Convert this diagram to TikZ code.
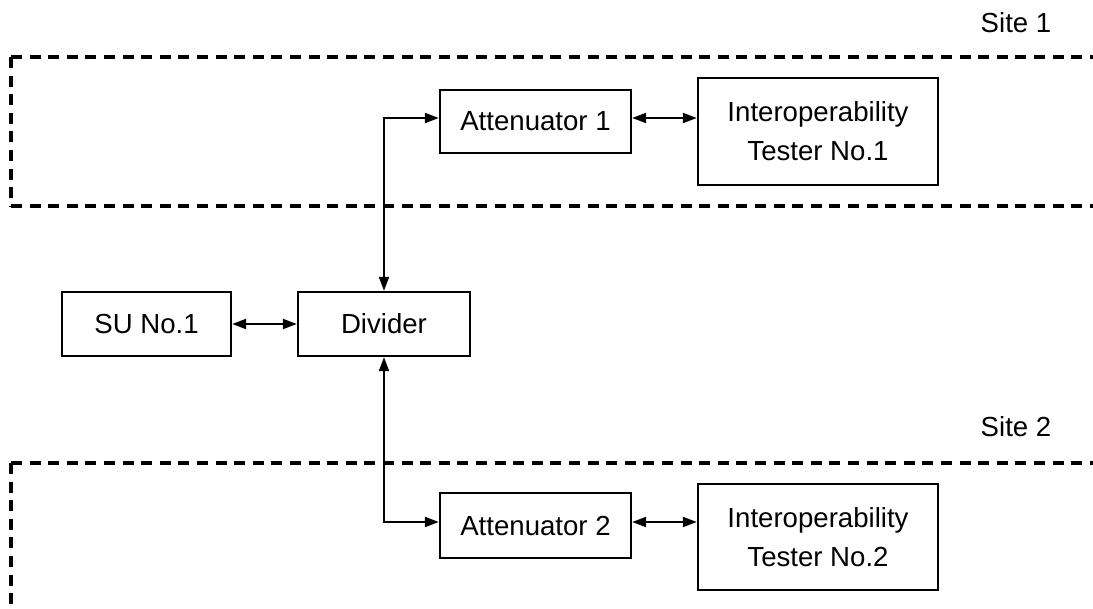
\documentclass[tikz,border=0pt]{standalone}
\usepackage{fontspec}
\setmainfont{Liberation Sans}
\usetikzlibrary{positioning}
\usetikzlibrary{arrows.meta}

\begin{document}
\begin{tikzpicture}[x=0.5pt,y=-0.5pt,
 blk/.style={draw,line width=1.2pt,inner sep=0pt,align=center,font=\fontsize{13.8}{19.5}\selectfont},
 link/.style={line width=1.1pt,{Triangle[length=7pt,width=5pt]}-{Triangle[length=7pt,width=5pt]}},
 site/.style={line width=1.7pt,dash pattern=on 5.5pt off 3.8pt}]
 \useasboundingbox (0,0) rectangle (1093,609);
 % site areas, open to the right
 \draw[site](11,57)--(1093,57);
 \draw[site](11,57)--(11,206);
 \draw[site](11,206)--(1093,206);
 \draw[site](11,463)--(1093,463);
 \draw[site](11,463)--(11,609);
 \node[font=\fontsize{13.8}{16}\selectfont] (site1) at (1016,23) {Site 1};
 \node[font=\fontsize{13.8}{16}\selectfont] (site2) at (1016,427) {Site 2};
 % blocks
 \node[blk,minimum width=84.5pt,minimum height=32pt] (su) at (146.5,324) {SU No.1};
 \node[blk,minimum width=86pt,minimum height=32pt] (divider) at (384,324) {Divider};
 \node[blk,minimum width=95.5pt,minimum height=31.5pt] (att1) at (535.5,121.5) {Attenuator 1};
 \node[blk,minimum width=120pt,minimum height=53.5pt] (tester1) at (818,131.5) {Interoperability\\Tester No.1};
 \node[blk,minimum width=95.5pt,minimum height=32.5pt] (att2) at (535.5,525.5) {Attenuator 2};
 \node[blk,minimum width=120pt,minimum height=53pt] (tester2) at (818,537) {Interoperability\\Tester No.2};
 % links
 \draw[link](su)--(divider);
 \draw[link](divider.north)|-([yshift=1.75pt]att1.west);
 \draw[link](divider.south)|-([yshift=1.75pt]att2.west);
 \draw[link]([yshift=1.75pt]att1.east)--([yshift=1.75pt]att1.east-|tester1.west);
 \draw[link]([yshift=1.75pt]att2.east)--([yshift=1.75pt]att2.east-|tester2.west);
\end{tikzpicture}
\end{document}
